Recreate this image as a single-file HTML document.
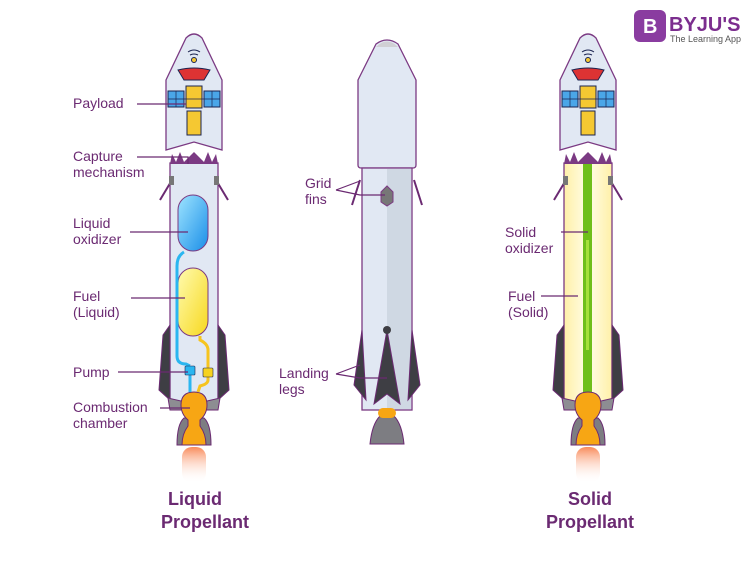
<!DOCTYPE html>
<html><head><meta charset="utf-8"><style>
body{margin:0;background:#fff}
svg{display:block}
text{font-family:"Liberation Sans",sans-serif;fill:#6b2a72;font-size:14px}
.t{font-weight:bold;font-size:18px;text-anchor:middle}
</style></head><body>
<svg width="750" height="568" viewBox="0 0 750 568" xmlns="http://www.w3.org/2000/svg">
<defs>
<linearGradient id="fl" x1="0" y1="0" x2="0" y2="1"><stop offset="0" stop-color="#f98a5a"/><stop offset="1" stop-color="#fff" stop-opacity="0"/></linearGradient>
<linearGradient id="bl" x1="0" y1="0" x2="1" y2="1"><stop offset="0" stop-color="#9ee4ff"/><stop offset="1" stop-color="#1a8ee8"/></linearGradient>
<linearGradient id="ye" x1="0" y1="0" x2="1" y2="1"><stop offset="0" stop-color="#fffbb0"/><stop offset="1" stop-color="#f7d81e"/></linearGradient>
<linearGradient id="pa" x1="0" y1="0" x2="1" y2="0"><stop offset="0" stop-color="#fff0a8"/><stop offset="0.5" stop-color="#fffde8"/><stop offset="1" stop-color="#fff0a8"/></linearGradient>
<g id="nose">
<path d="M-28 80 L-8 38 Q0 30 8 38 L28 80 L28 150 L0 142 L-28 150 Z" fill="#e1e8f3" stroke="#7b3a83" stroke-width="1.3"/>
<path d="M-6 52 Q0 48 6 52 M-4 55 Q0 53 4 55" stroke="#1b2350" fill="none"/>
<circle cx="0" cy="60" r="2.5" fill="#f5c832" stroke="#1b2350"/>
<path d="M-16 70 Q0 66 16 70 L10 80 L-10 80Z" fill="#d33" stroke="#1b2350"/>
<rect x="-8" y="86" width="16" height="22" fill="#f5c832" stroke="#1b2350"/>
<rect x="-7" y="111" width="14" height="24" fill="#f5c832" stroke="#1b2350"/>
<rect x="-26" y="91" width="16" height="16" fill="#4aa6e8" stroke="#1b2350"/>
<rect x="10" y="91" width="16" height="16" fill="#4aa6e8" stroke="#1b2350"/>
<path d="M-26 99 H26 M-18 91 V107 M18 91 V107" stroke="#1b2350" stroke-width=".7"/>
</g>
<g id="lower">
<path d="M-22 180 L-34 200 M22 180 L34 200" stroke="#6b2a72" stroke-width="2"/>
<rect x="-25" y="176" width="5" height="9" fill="#777"/>
<rect x="20" y="176" width="5" height="9" fill="#777"/>
<path d="M-24 164 L-22 154 L-18 162 L-14 152 L-10 162 L0 152 L10 162 L14 152 L18 162 L22 154 L24 164Z" fill="#7b3a83"/>
<path d="M-24 325 L-31 335 L-35 390 L-24 400 Z M24 325 L31 335 L35 390 L24 400 Z" fill="#3e3e44" stroke="#6b2a72"/>
<path d="M-26 398 L-24 410 L24 410 L26 398 L0 404Z" fill="#8d8d92" stroke="#6b2a72"/>
<path d="M-10 418 Q-17 424 -17 445 L17 445 Q17 424 10 418 Z" fill="#7d7d82" stroke="#6b2a72"/>
<path d="M-6 420 Q-13 414 -13 405 Q-13 392 0 392 Q13 392 13 405 Q13 414 6 420 L6 426 Q12 434 12 445 L-12 445 Q-12 434 -6 426Z" fill="#f7a614" stroke="#6b2a72"/>
<rect x="-12" y="447" width="24" height="36" rx="10" fill="url(#fl)"/>
</g>
</defs>

<g transform="translate(194,0)">
<use href="#nose"/>
<rect x="-24" y="163" width="48" height="240" fill="#e1e8f3" stroke="#7b3a83" stroke-width="1.3"/>
<use href="#lower"/>
<rect x="-16" y="195" width="30" height="56" rx="15" fill="url(#bl)" stroke="#7b3a83"/>
<rect x="-16" y="268" width="30" height="68" rx="15" fill="url(#ye)" stroke="#7b3a83"/>
<path d="M-10 252 Q-17 256 -17 266 L-17 356 Q-17 364 -8 364 L-4 366" fill="none" stroke="#2bb6f0" stroke-width="3"/>
<path d="M-4 374 L-4 392" stroke="#2bb6f0" stroke-width="3"/>
<path d="M6 336 L6 340 Q14 344 14 350 L14 370" fill="none" stroke="#f6c41e" stroke-width="3"/>
<path d="M14 377 L14 380 Q14 384 6 386 L4 392" fill="none" stroke="#f6c41e" stroke-width="3"/>
<rect x="-9" y="366" width="10" height="9" rx="1" fill="#2bb6f0" stroke="#1b2350" stroke-width=".6"/>
<rect x="9" y="368" width="10" height="9" rx="1" fill="#f6d21e" stroke="#1b2350" stroke-width=".6"/>
</g>

<g transform="translate(588,0)">
<use href="#nose"/>
<rect x="-24" y="163" width="48" height="240" fill="url(#pa)" stroke="#7b3a83" stroke-width="1.3"/>
<rect x="-5" y="160" width="9" height="240" fill="#6fbf1a"/>
<rect x="-2" y="240" width="3" height="110" fill="#a6e03a"/>
<use href="#lower"/>
</g>

<path d="M358 80 L376 44 Q387 36 398 44 L416 80 L416 165 Q416 168 413 168 L361 168 Q358 168 358 165 Z" fill="#e1e8f3" stroke="#7b3a83" stroke-width="1.3"/>
<path d="M376 47 Q387 36 398 47 Z" fill="#d0d0d4"/>
<path d="M360 180 L352 205 M414 180 L422 205" stroke="#6b2a72" stroke-width="2"/>
<rect x="362" y="168" width="50" height="242" fill="#e1e8f3" stroke="#7b3a83" stroke-width="1.3"/>
<rect x="387" y="169" width="24" height="240" fill="#cfd8e3"/>
<path d="M381 192 L387 186 L393 192 L393 202 L387 206 L381 202Z" fill="#777" stroke="#7b3a83"/>
<path d="M362 330 L354 385 L366 400 Z M412 330 L420 385 L408 400 Z M387 330 L374 404 L387 394 L400 404Z" fill="#3e3e44" stroke="#6b2a72"/>
<circle cx="387" cy="330" r="4" fill="#3e3e44"/>
<path d="M380 416 Q372 424 370 444 L404 444 Q402 424 394 416Z" fill="#7d7d82" stroke="#6b2a72"/>
<rect x="378" y="408" width="18" height="10" rx="5" fill="#f7a614"/>

<g stroke="#6b2a72" stroke-width="1.2" fill="none">
<path d="M137 104 L186 104"/>
<path d="M137 157 L188 157 L188 164"/>
<path d="M130 232 L188 232"/>
<path d="M131 298 L185 298"/>
<path d="M118 372 L188 372"/>
<path d="M160 408 L190 408"/>
<path d="M336 190 L360 181 M336 190 L360 195 L385 195"/>
<path d="M336 374 L360 365 M336 374 L360 378 L387 378"/>
<path d="M561 232 L588 232"/>
<path d="M541 296 L578 296"/>
</g>

<text x="73" y="108">Payload</text>
<text x="73" y="161">Capture</text><text x="73" y="177">mechanism</text>
<text x="73" y="228">Liquid</text><text x="73" y="244">oxidizer</text>
<text x="73" y="301">Fuel</text><text x="73" y="317">(Liquid)</text>
<text x="73" y="377">Pump</text>
<text x="73" y="412">Combustion</text><text x="73" y="428">chamber</text>
<text x="305" y="188">Grid</text><text x="305" y="204">fins</text>
<text x="279" y="378">Landing</text><text x="279" y="394">legs</text>
<text x="505" y="237">Solid</text><text x="505" y="253">oxidizer</text>
<text x="508" y="301">Fuel</text><text x="508" y="317">(Solid)</text>
<text class="t" x="195" y="505">Liquid</text><text class="t" x="205" y="528">Propellant</text>
<text class="t" x="590" y="505">Solid</text><text class="t" x="590" y="528">Propellant</text>

<rect x="634" y="10" width="32" height="32" rx="6" fill="#8a3ca0"/>
<text x="643" y="33" style="fill:#fff;font-weight:bold;font-size:20px">B</text>
<text x="669" y="31" style="font-weight:bold;font-size:20px;fill:#7b2d8e">BYJU'S</text>
<text x="670" y="42" style="font-size:9px;fill:#555">The Learning App</text>
</svg>
</body></html>
